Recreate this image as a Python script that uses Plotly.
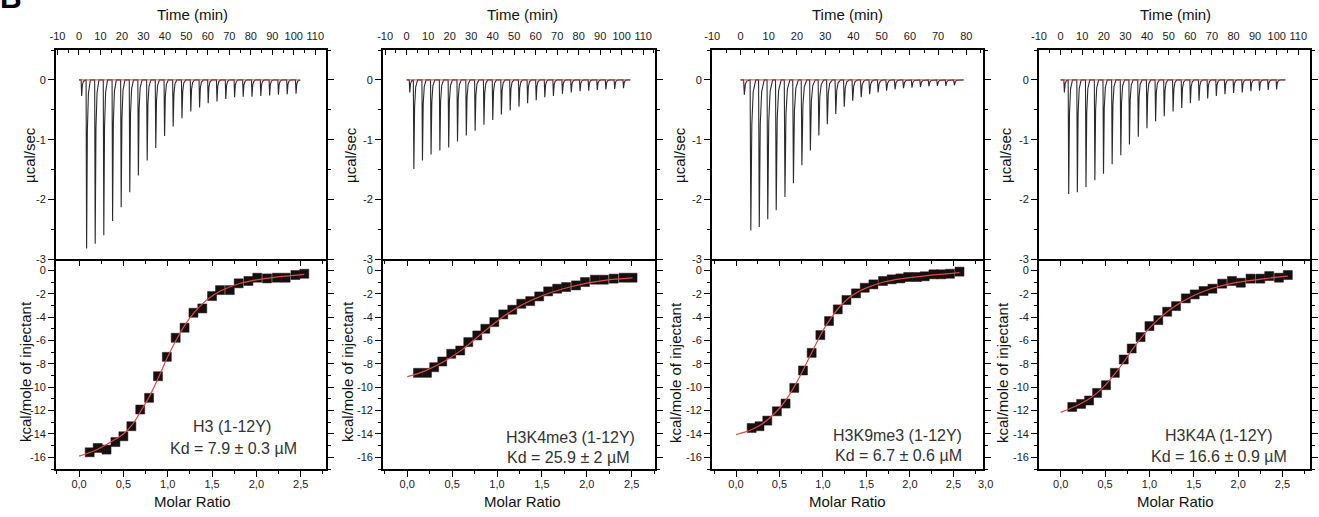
import plotly.graph_objects as go

W, H = 1319, 517

# ------------------------------------------------------------------ data
peptides = ["H3 (1-12Y)", "H3K4me3 (1-12Y)", "H3K9me3 (1-12Y)", "H3K4A (1-12Y)"]
kd_labels = ["Kd = 7.9 ± 0.3 µM", "Kd = 25.9 ± 2 µM", "Kd = 6.7 ± 0.6 µM", "Kd = 16.6 ± 0.9 µM"]

# raw thermograms: injection times (min) and peak heights (µcal/sec)
inj_time_h3 = [1.0, 3.3, 7.3, 11.3, 15.4, 19.4, 23.4, 27.4, 31.5, 35.5, 39.6, 43.6, 47.7,
               51.8, 55.9, 59.9, 64.0, 68.1, 72.2, 76.2, 80.3, 84.4, 88.5, 92.6, 96.7, 100.8]
peak_h3 = [-0.27, -2.82, -2.74, -2.60, -2.36, -2.13, -1.88, -1.60, -1.35, -1.14, -0.94, -0.78, -0.64,
           -0.53, -0.46, -0.39, -0.36, -0.32, -0.29, -0.28, -0.28, -0.27, -0.26, -0.25, -0.24, -0.23]

inj_time_k4me3 = [1.2, 3.1, 7.1, 11.1, 15.2, 19.3, 23.4, 27.5, 31.6, 35.7, 39.8, 43.8, 47.9,
                  52.0, 56.0, 60.0, 64.0, 68.0, 72.2, 76.3, 80.4, 84.4, 88.4, 92.4, 96.5, 100.6]
peak_k4me3 = [-0.21, -1.49, -1.35, -1.25, -1.18, -1.13, -1.03, -0.93, -0.85, -0.75, -0.67, -0.58, -0.51,
              -0.45, -0.39, -0.34, -0.29, -0.27, -0.23, -0.21, -0.19, -0.18, -0.17, -0.16, -0.15, -0.14]

inj_time_k9me3 = [1.1, 3.4, 6.4, 9.4, 12.4, 15.5, 18.5, 21.5, 24.5, 27.5, 30.5, 33.5, 36.5,
                  39.5, 42.5, 45.5, 48.5, 51.5, 54.5, 57.5, 60.5, 63.5, 66.5, 69.5, 72.5, 75.5]
peak_k9me3 = [-0.25, -2.52, -2.46, -2.33, -2.18, -1.96, -1.73, -1.43, -1.18, -0.93, -0.74, -0.57, -0.45,
              -0.35, -0.29, -0.24, -0.21, -0.18, -0.16, -0.14, -0.13, -0.12, -0.11, -0.10, -0.10, -0.09]

inj_time_k4a = [1.5, 3.5, 7.5, 11.5, 15.6, 19.6, 23.6, 27.6, 31.6, 35.7, 39.7, 43.7, 47.7,
                51.8, 55.8, 59.8, 63.8, 67.8, 71.8, 75.8, 79.8, 83.8, 87.8, 91.8, 95.8, 99.7]
peak_k4a = [-0.21, -1.91, -1.88, -1.79, -1.68, -1.57, -1.41, -1.26, -1.08, -0.95, -0.81, -0.69, -0.61,
            -0.53, -0.47, -0.39, -0.35, -0.31, -0.27, -0.24, -0.22, -0.21, -0.19, -0.18, -0.17, -0.16]

baseline_end = [103.0, 104.0, 79.0, 104.0]

# integrated heats (kcal/mole of injectant) vs molar ratio
ratio_h3 = [0.12, 0.21, 0.31, 0.41, 0.50, 0.59, 0.69, 0.79, 0.89, 0.99, 1.09, 1.19, 1.29,
            1.39, 1.50, 1.59, 1.70, 1.80, 1.91, 2.01, 2.12, 2.23, 2.33, 2.44, 2.54]
heat_h3 = [-15.57, -15.20, -15.34, -14.69, -14.20, -13.34, -11.91, -10.91, -9.06, -7.40, -5.77, -4.91, -3.63,
           -3.26, -2.20, -1.69, -1.69, -1.11, -0.91, -0.63, -0.69, -0.63, -0.63, -0.40, -0.29]
fit_ratio_h3 = [0.0, 0.1, 0.2, 0.3, 0.4, 0.5, 0.6, 0.7, 0.8, 0.9, 1.0, 1.1, 1.2, 1.3, 1.4, 1.5, 1.6,
                1.8, 2.0, 2.2, 2.54]
fit_heat_h3 = [-15.9, -15.65, -15.35, -14.95, -14.5, -14.0, -13.2, -12.0, -10.7, -9.1, -7.4, -5.9, -4.6,
               -3.6, -2.8, -2.2, -1.75, -1.15, -0.82, -0.6, -0.35]

ratio_k4me3 = [0.12, 0.22, 0.30, 0.39, 0.49, 0.59, 0.68, 0.78, 0.87, 0.97, 1.07, 1.17, 1.27,
               1.37, 1.47, 1.57, 1.67, 1.77, 1.88, 1.98, 2.09, 2.19, 2.30, 2.41, 2.51]
heat_k4me3 = [-8.77, -8.77, -8.29, -7.80, -7.14, -6.86, -6.14, -5.57, -5.00, -4.43, -3.77, -3.37, -2.86,
              -2.63, -2.23, -1.80, -1.57, -1.43, -1.29, -1.00, -0.80, -0.80, -0.71, -0.63, -0.63]
fit_ratio_k4me3 = [0.0, 0.2, 0.4, 0.6, 0.8, 1.0, 1.2, 1.4, 1.6, 1.8, 2.0, 2.2, 2.51]
fit_heat_k4me3 = [-9.1, -8.6, -7.85, -6.85, -5.6, -4.35, -3.3, -2.5, -1.9, -1.45, -1.1, -0.85, -0.65]

ratio_k9me3 = [0.18, 0.27, 0.36, 0.47, 0.57, 0.67, 0.77, 0.87, 0.97, 1.07, 1.17, 1.27, 1.38,
               1.48, 1.58, 1.69, 1.79, 1.89, 1.98, 2.08, 2.17, 2.27, 2.36, 2.46, 2.57]
heat_k9me3 = [-13.49, -13.34, -12.86, -12.06, -11.40, -10.06, -8.57, -7.06, -5.54, -4.34, -3.34, -2.54, -1.97,
              -1.49, -1.20, -0.91, -0.77, -0.69, -0.57, -0.57, -0.51, -0.34, -0.34, -0.29, -0.11]
fit_ratio_k9me3 = [0.0, 0.1, 0.2, 0.3, 0.4, 0.5, 0.6, 0.7, 0.8, 0.9, 1.0, 1.1, 1.2, 1.3, 1.4, 1.5,
                   1.7, 1.9, 2.2, 2.57]
fit_heat_k9me3 = [-14.05, -13.85, -13.55, -13.15, -12.55, -11.8, -10.8, -9.55, -8.1, -6.6, -5.15, -4.0,
                  -3.05, -2.35, -1.85, -1.5, -1.0, -0.72, -0.45, -0.2]

ratio_k4a = [0.13, 0.23, 0.32, 0.41, 0.51, 0.61, 0.71, 0.80, 0.90, 1.00, 1.10, 1.20, 1.30,
             1.41, 1.51, 1.61, 1.71, 1.82, 1.93, 2.03, 2.14, 2.25, 2.35, 2.46, 2.56]
heat_k4a = [-11.69, -11.43, -11.14, -10.49, -9.83, -8.77, -7.63, -6.69, -5.71, -4.77, -4.26, -3.54, -3.06,
            -2.40, -2.06, -1.77, -1.57, -1.14, -0.91, -1.06, -0.71, -0.71, -0.49, -0.63, -0.40]
fit_ratio_k4a = [0.0, 0.1, 0.2, 0.3, 0.4, 0.5, 0.6, 0.7, 0.8, 0.9, 1.0, 1.1, 1.2, 1.3, 1.4, 1.5,
                 1.7, 1.9, 2.1, 2.3, 2.56]
fit_heat_k4a = [-12.15, -11.85, -11.5, -11.1, -10.55, -9.85, -8.95, -7.95, -6.85, -5.85, -4.95, -4.2,
                -3.55, -3.0, -2.55, -2.15, -1.55, -1.15, -0.9, -0.7, -0.5]

# tick labels
time_ticks_110 = [-10, 0, 10, 20, 30, 40, 50, 60, 70, 80, 90, 100, 110]
time_labels_110 = ["-10", "0", "10", "20", "30", "40", "50", "60", "70", "80", "90", "100", "110"]
time_ticks_80 = [-10, 0, 10, 20, 30, 40, 50, 60, 70, 80]
time_labels_80 = ["-10", "0", "10", "20", "30", "40", "50", "60", "70", "80"]
power_ticks = [0, -1, -2, -3]
power_labels = ["0", "-1", "-2", "-3"]
ratio_ticks = [0.0, 0.5, 1.0, 1.5, 2.0, 2.5]
ratio_labels = ["0,0", "0,5", "1,0", "1,5", "2,0", "2,5"]
heat_ticks = [0, -2, -4, -6, -8, -10, -12, -14, -16]
heat_labels = ["0", "-2", "-4", "-6", "-8", "-10", "-12", "-14", "-16"]

# ------------------------------------------------------------------ layout geometry (pixels)
FONT = "Liberation Sans, Arial, Helvetica, sans-serif"
panel_px = [(56, 326), (383, 655), (712, 983), (1039, 1310)]
top_px = (50, 261)
bot_px = (261, 469)
time_range = [[-10.7, 115.0], [-11.0, 115.5], [-10.1, 85.9], [-10.0, 115.4]]
ratio_range = [[-0.26, 2.785], [-0.27, 2.76], [-0.276, 2.84], [-0.245, 2.81]]
power_range = [-3.03, 0.5]
heat_range = [-17.0, 0.8]

ylab_top_x = [30, 351, 680, 1006]
ylab_bot_x = [25, 347, 675, 1002]
xlab_center = [192, 522, 847, 1175]
pep_pos = [(232, 426, 233, 448), (570, 437, 568, 457), (897, 435, 898, 455), (1219, 435, 1219, 456)]

inj_times = [inj_time_h3, inj_time_k4me3, inj_time_k9me3, inj_time_k4a]
peaks = [peak_h3, peak_k4me3, peak_k9me3, peak_k4a]
ratios = [ratio_h3, ratio_k4me3, ratio_k9me3, ratio_k4a]
heats = [heat_h3, heat_k4me3, heat_k9me3, heat_k4a]
fit_ratios = [fit_ratio_h3, fit_ratio_k4me3, fit_ratio_k9me3, fit_ratio_k4a]
fit_heats = [fit_heat_h3, fit_heat_k4me3, fit_heat_k9me3, fit_heat_k4a]


def px_x(p):
    return p / W


def px_y(p):
    return 1 - p / H


def label(text, x, y, size, color, angle=0, xanchor="center", yanchor="middle"):
    return dict(text=text, x=px_x(x), y=px_y(y), xref="paper", yref="paper", showarrow=False,
                xanchor=xanchor, yanchor=yanchor, textangle=angle, borderpad=0,
                font=dict(size=size, color=color, family=FONT))


fig = go.Figure()
layout = dict(
    template="none",
    width=W, height=H, margin=dict(l=0, r=0, t=0, b=0, pad=0),
    paper_bgcolor="white", plot_bgcolor="white", showlegend=False,
    font=dict(family=FONT, color="#222"),
)
annotations = []

AX = dict(showline=True, linecolor="black", linewidth=1.8, showgrid=False, zeroline=False,
          automargin=False,
          tickcolor="black", tickwidth=1.2, tickfont=dict(size=11, color="#1a1a1a", family=FONT),
          tickmode="array")

for k in range(4):
    xt, yt = 2 * k + 1, 2 * k + 1
    xb, yb = 2 * k + 2, 2 * k + 2
    xh = 9 + k
    dom = [px_x(panel_px[k][0]), px_x(panel_px[k][1])]

    # ---- raw thermogram (built from read injection times and peak heights)
    tx, ty = [0.0], [0.0]
    for t, h in zip(inj_times[k], peaks[k]):
        tx += [t, t + 0.25, t + 0.6, t + 1.1, t + 2.0]
        ty += [0.0, h, 0.3 * h, 0.08 * h, 0.0]
    tx.append(baseline_end[k])
    ty.append(0.0)
    fig.add_trace(go.Scatter(x=tx, y=ty, mode="lines", line=dict(color="#2a2a2a", width=1.1),
                             xaxis=f"x{xt}", yaxis=f"y{yt}", hoverinfo="skip"))
    fig.add_trace(go.Scatter(x=[0.0, baseline_end[k]], y=[0.0, 0.0], mode="lines",
                             line=dict(color="#e04040", width=1),
                             xaxis=f"x{xt}", yaxis=f"y{yt}", hoverinfo="skip"))

    # ---- binding isotherm
    fig.add_trace(go.Scatter(x=fit_ratios[k], y=fit_heats[k], mode="lines", line_shape="spline",
                             line=dict(color="#e04848", width=1.2),
                             xaxis=f"x{xh}", yaxis=f"y{yb}"))
    fig.add_trace(go.Scatter(x=ratios[k], y=heats[k], mode="markers",
                             marker=dict(symbol="square", size=9, color="#111",
                                         line=dict(color="#3a0a0a", width=0.5)),
                             xaxis=f"x{xb}", yaxis=f"y{yb}"))

    if k == 2:
        tv, tl = time_ticks_80, time_labels_80
    else:
        tv, tl = time_ticks_110, time_labels_110

    layout[f"xaxis{xt}"] = dict(AX, domain=dom, anchor=f"y{yt}", side="top", range=time_range[k],
                                tickvals=tv, ticktext=tl, ticks="inside", ticklen=5,
                                minor=dict(tickmode="linear", tick0=0, dtick=5, ticks="inside",
                                           ticklen=3, tickcolor="black", tickwidth=1),
                                mirror=False, ticklabelstandoff=4)
    layout[f"yaxis{yt}"] = dict(AX, domain=[px_y(top_px[1]), px_y(top_px[0])], anchor=f"x{xt}",
                                range=power_range, tickvals=power_ticks, ticktext=power_labels,
                                ticks="outside", ticklen=6,
                                minor=dict(tickmode="linear", tick0=0, dtick=0.5, ticks="outside",
                                           ticklen=3, tickcolor="black", tickwidth=1),
                                mirror="ticks")
    layout[f"xaxis{xb}"] = dict(AX, domain=dom, anchor=f"y{yb}", range=ratio_range[k],
                                tickvals=ratio_ticks, ticktext=ratio_labels,
                                ticks="outside", ticklen=6, ticklabelstandoff=-2,
                                minor=dict(tickmode="linear", tick0=0, dtick=0.25, ticks="outside",
                                           ticklen=3, tickcolor="black", tickwidth=1),
                                mirror=True)
    layout[f"xaxis{xh}"] = dict(overlaying=f"x{xb}", anchor=f"y{yb}", side="top",
                                range=ratio_range[k], tickmode="array", tickvals=ratio_ticks,
                                showticklabels=False, ticks="inside", ticklen=5, tickcolor="black",
                                tickwidth=1.2, showline=False, showgrid=False, zeroline=False,
                                automargin=False,
                                minor=dict(tickmode="linear", tick0=0, dtick=0.25, ticks="inside",
                                           ticklen=3, tickcolor="black", tickwidth=1))
    layout[f"yaxis{yb}"] = dict(AX, domain=[px_y(bot_px[1]), px_y(bot_px[0])], anchor=f"x{xb}",
                                range=heat_range, tickvals=heat_ticks, ticktext=heat_labels,
                                ticks="outside", ticklen=6,
                                minor=dict(tickmode="linear", tick0=0, dtick=1, ticks="outside",
                                           ticklen=3, tickcolor="black", tickwidth=1),
                                mirror="ticks")

    # ---- axis titles
    annotations.append(label("Time (min)", xlab_center[k], 15, 15, "#111"))
    annotations.append(label("Molar Ratio", xlab_center[k], 501, 15, "#111"))
    annotations.append(label("µcal/sec", ylab_top_x[k], 155, 15, "#111", angle=-90))
    annotations.append(label("kcal/mole of injectant", ylab_bot_x[k], 372, 15, "#111", angle=-90))
    # ---- peptide / Kd labels
    px1, py1, px2, py2 = pep_pos[k]
    annotations.append(label(peptides[k], px1, py1, 16, "#333"))
    annotations.append(label(kd_labels[k], px2, py2, 16, "#333"))

# tick label at the very right end of the third isotherm axis
annotations.append(label("3,0", 986, 484, 11, "#1a1a1a"))
# panel letter (cut at the top edge)
annotations.append(label("<b>B</b>", -1, 15, 30, "black", xanchor="left", yanchor="bottom"))

layout["annotations"] = annotations
fig.update_layout(**layout)
fig.write_html("out.html", config={"displayModeBar": False},
               post_script="document.body.style.margin='0';document.body.style.overflow='hidden';")
